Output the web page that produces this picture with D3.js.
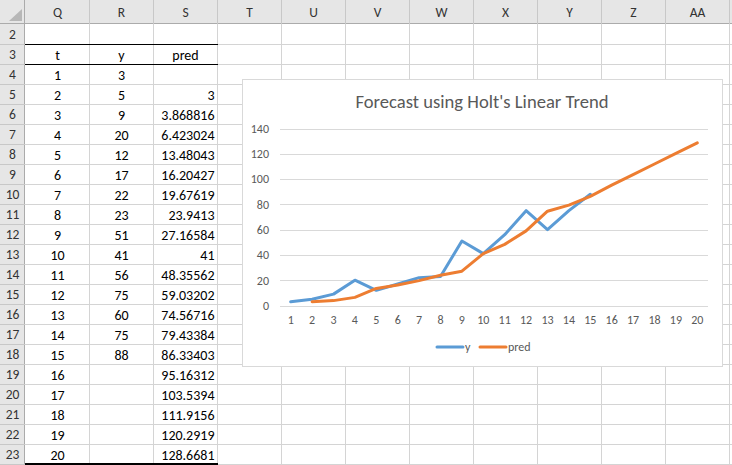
<!DOCTYPE html>
<html><head><meta charset="utf-8">
<script src="https://cdn.jsdelivr.net/npm/d3@7/dist/d3.min.js"></script>
<style>body{margin:0;background:#fff;overflow:hidden}svg{display:block}</style>
</head><body><svg id="c" width="732" height="465"></svg>
<script>
// ---- data ----
const columnLetters = ["Q","R","S","T","U","V","W","X","Y","Z","AA"];
const rowNumbers = d3.range(2, 24);
const tableHeaders = ["t","y","pred"];
const tValues = [1,2,3,4,5,6,7,8,9,10,11,12,13,14,15,16,17,18,19,20];
const yValues = [3,5,9,20,12,17,22,23,51,41,56,75,60,75,88];
const predValues = [null,3,3.868816,6.423024,13.48043,16.20427,19.67619,23.9413,27.16584,41,48.35562,59.03202,74.56716,79.43384,86.33403,95.16312,103.5394,111.9156,120.2919,128.6681];
const yTicks = [0,20,40,60,80,100,120,140];
const chartTitle = "Forecast using Holt's Linear Trend";
const seriesNames = ["y","pred"];

// ---- layout ----
const W = 732, H = 465;
const headerH = 24, rowH = 20, rowHdrW = 25, colW = 64;
const font = "Calibri, Carlito, 'Liberation Sans', Arial, sans-serif";
const svg = d3.select("#c");

const colX = i => rowHdrW + 0.5 + i * colW;          // left edge of column i
const rowY = r => headerH + 0.5 + (r - 2) * rowH;      // top edge of row r

svg.append("rect").attr("width", W).attr("height", H).attr("fill", "#fff");

// gridlines of sheet
const grid = svg.append("g").attr("shape-rendering", "crispEdges");
for (let i = 1; i <= columnLetters.length; i++) {
  grid.append("line").attr("x1", colX(i)).attr("x2", colX(i)).attr("y1", headerH).attr("y2", H)
    .attr("stroke", "#d4d4d4");
}
rowNumbers.forEach(r => {
  grid.append("line").attr("x1", rowHdrW).attr("x2", W).attr("y1", rowY(r) + rowH).attr("y2", rowY(r) + rowH)
    .attr("stroke", "#d4d4d4");
});

// headers
const hdr = svg.append("g");
hdr.append("rect").attr("x", 0).attr("y", 0).attr("width", W).attr("height", headerH).attr("fill", "#e6e6e6");
hdr.append("rect").attr("x", 0).attr("y", 0).attr("width", rowHdrW).attr("height", H).attr("fill", "#e6e6e6");
hdr.append("path").attr("d", "M9,21L22,21L22,9Z").attr("fill", "#b7b7b7");
const hl = hdr.append("g").attr("shape-rendering", "crispEdges");
hl.append("line").attr("x1", 0).attr("x2", W).attr("y1", headerH - 0.5).attr("y2", headerH - 0.5).attr("stroke", "#ababab");
hl.append("line").attr("x1", rowHdrW - 0.5).attr("x2", rowHdrW - 0.5).attr("y1", 0).attr("y2", H).attr("stroke", "#ababab");
for (let i = 1; i <= columnLetters.length; i++) {
  hl.append("line").attr("x1", colX(i)).attr("x2", colX(i)).attr("y1", 0).attr("y2", headerH).attr("stroke", "#c8c8c8");
}
rowNumbers.forEach(r => {
  hl.append("line").attr("x1", 0).attr("x2", rowHdrW).attr("y1", rowY(r) + rowH).attr("y2", rowY(r) + rowH).attr("stroke", "#c8c8c8");
});
hdr.selectAll("text.col").data(columnLetters).join("text").attr("class", "col")
  .attr("x", (d, i) => colX(i) + colW / 2).attr("y", 17).attr("text-anchor", "middle")
  .attr("font-family", font).attr("font-size", 13.5).attr("fill", "#333").text(d => d);
hdr.selectAll("text.row").data(rowNumbers).join("text").attr("class", "row")
  .attr("x", 12.5).attr("y", r => rowY(r) + 14.5).attr("text-anchor", "middle")
  .attr("font-family", font).attr("font-size", 13.5).attr("fill", "#333").text(d => d);

// table cells
const cells = svg.append("g").attr("font-family", font).attr("font-size", 14).attr("fill", "#000");
tableHeaders.forEach((h, i) => {
  cells.append("text").attr("x", colX(i) + colW / 2).attr("y", rowY(3) + 15).attr("text-anchor", "middle").text(h);
});
tValues.forEach((t, k) => {
  const r = 4 + k;
  cells.append("text").attr("x", colX(0) + colW / 2).attr("y", rowY(r) + 15).attr("text-anchor", "middle").text(t);
  if (yValues[k] != null)
    cells.append("text").attr("x", colX(1) + colW / 2).attr("y", rowY(r) + 15).attr("text-anchor", "middle").text(yValues[k]);
  if (predValues[k] != null)
    cells.append("text").attr("x", colX(3) - 3).attr("y", rowY(r) + 15).attr("text-anchor", "end").text(String(predValues[k]));
});
// borders
const bd = svg.append("g").attr("shape-rendering", "crispEdges").attr("stroke", "#000");
bd.append("line").attr("x1", colX(0) - 0.5).attr("x2", colX(3)).attr("y1", rowY(3) - 0.5).attr("y2", rowY(3) - 0.5).attr("stroke-width", 1);
bd.append("line").attr("x1", colX(0) - 0.5).attr("x2", colX(3)).attr("y1", rowY(4) - 0.5).attr("y2", rowY(4) - 0.5).attr("stroke-width", 1);
bd.append("line").attr("x1", colX(0) - 0.5).attr("x2", colX(3)).attr("y1", 464).attr("y2", 464).attr("stroke-width", 2);

// ---- chart ----
const cx = 242.5, cy = 79.5, cw = 480, ch = 287;
const chart = svg.append("g");
chart.append("rect").attr("x", cx).attr("y", cy).attr("width", cw).attr("height", ch)
  .attr("fill", "#fff").attr("stroke", "#d9d9d9").attr("shape-rendering", "crispEdges");

const titleT = chart.append("text").attr("x", 482).attr("y", 108).attr("text-anchor", "middle")
  .attr("font-family", font).attr("font-size", 18.67).attr("fill", "#595959").text(chartTitle);
const tw = titleT.node().getComputedTextLength();
titleT.attr("font-size", 18.67 * 253 / tw);

const x = d3.scaleBand().domain(tValues).range([280, 708]).padding(0);
const xc = d => x(d) + x.bandwidth() / 2;
const y = d3.scaleLinear().domain([0, 140]).range([305.5, 128.5]);

const yAxis = d3.axisLeft(y).tickValues(yTicks).tickSize(-(708 - 280)).tickPadding(11);
const ga = chart.append("g").attr("transform", "translate(280,0)").call(yAxis);
ga.select(".domain").remove();
ga.selectAll(".tick line").attr("stroke", "#d9d9d9").attr("shape-rendering", "crispEdges");
ga.selectAll(".tick text").attr("font-family", font).attr("font-size", 12).attr("fill", "#595959");

const xAxis = d3.axisBottom(x).tickSize(0).tickPadding(10);
const gx = chart.append("g").attr("transform", "translate(0,305.5)").call(xAxis);
gx.select(".domain").remove();
gx.selectAll(".tick text").attr("font-family", font).attr("font-size", 12).attr("fill", "#595959");

const line = d3.line().defined(d => d.v != null).x(d => xc(d.t)).y(d => y(d.v));
const ySeries = tValues.map((t, i) => ({t, v: yValues[i] == null ? null : yValues[i]}));
const pSeries = tValues.map((t, i) => ({t, v: predValues[i]}));
chart.append("path").datum(ySeries).attr("d", line).attr("fill", "none")
  .attr("stroke", "#5b9bd5").attr("stroke-width", 3).attr("stroke-linejoin", "round").attr("stroke-linecap", "round");
chart.append("path").datum(pSeries).attr("d", line).attr("fill", "none")
  .attr("stroke", "#ed7d31").attr("stroke-width", 3).attr("stroke-linejoin", "round").attr("stroke-linecap", "round");

// legend
const lg = chart.append("g").attr("font-family", font).attr("font-size", 12).attr("fill", "#595959");
const legendItems = [{name: seriesNames[0], color: "#5b9bd5", x0: 437}, {name: seriesNames[1], color: "#ed7d31", x0: 480}];
legendItems.forEach(it => {
  lg.append("line").attr("x1", it.x0).attr("x2", it.x0 + 26).attr("y1", 347).attr("y2", 347)
    .attr("stroke", it.color).attr("stroke-width", 3).attr("stroke-linecap", "round");
  lg.append("text").attr("x", it.x0 + 28).attr("y", 351).text(it.name);
});
</script></body></html>
